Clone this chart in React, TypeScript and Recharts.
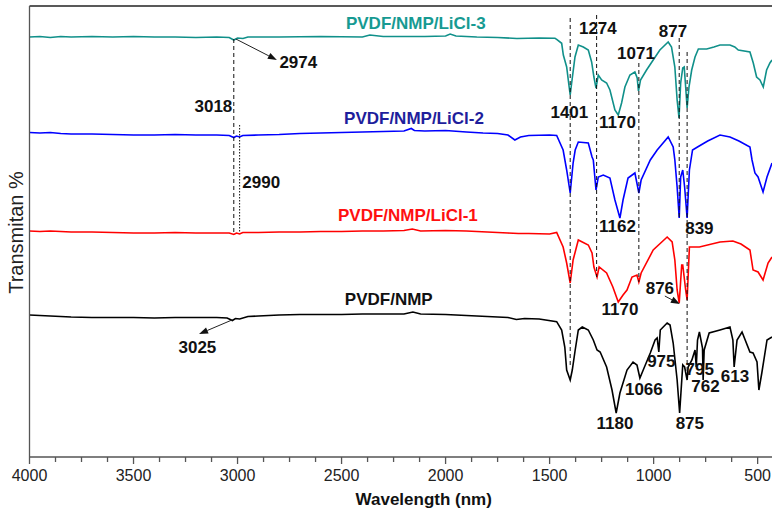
import React from 'react';
import { ComposedChart, Line, XAxis, YAxis, ReferenceLine, Scatter, Label } from 'recharts';

type P = [number, number];

// wavenumber (cm-1 as labelled "nm") , transmittance (arbitrary offset units)
const licl3: P[] = [
  [4000, 420], [3950, 420.5], [3900, 419.5], [3850, 420.5], [3800, 420], [3700, 420.5], [3600, 420], [3500, 420.5],
  [3400, 420], [3300, 420], [3200, 419.5], [3100, 420], [3040, 419.5], [3018, 417], [3000, 419], [2974, 418.5],
  [2950, 420], [2800, 420], [2600, 420.5], [2400, 420], [2364, 422], [2300, 420.5], [2200, 420.5], [2100, 420.5],
  [2000, 421], [1978, 423], [1950, 421], [1850, 420], [1750, 419.5], [1657, 418.5], [1550, 419], [1474, 418.7],
  [1466, 417.7], [1442, 413.7], [1434, 402], [1418, 390], [1406, 370], [1401, 362], [1394, 374], [1378, 400],
  [1362, 412], [1338, 410], [1314, 407], [1298, 395], [1287, 380], [1277, 369], [1266, 382], [1250, 377],
  [1226, 374], [1210, 367], [1186, 347], [1170, 342], [1154, 354], [1138, 370], [1114, 382], [1090, 385],
  [1079, 379], [1073, 366], [1063, 377], [1034, 387], [1002, 397], [970, 407], [930, 415], [914, 410],
  [898, 390], [887, 357], [878, 339], [870, 374], [860, 389], [853, 390], [846, 370], [839, 349], [830, 370],
  [817, 387], [801, 400], [785, 408], [745, 408], [710, 410], [681, 412], [633, 412], [610, 410], [593, 407],
  [537, 405], [521, 394], [505, 380], [489, 377], [473, 370], [457, 387], [441, 394], [431, 397],
];

const licl2: P[] = [
  [4000, 324.5], [3950, 324], [3900, 324.5], [3850, 323.5], [3800, 323], [3700, 323], [3600, 322.5], [3500, 322],
  [3400, 322], [3300, 322.5], [3200, 322], [3100, 322], [3040, 321.5], [3018, 319.5], [3005, 321], [2990, 320],
  [2975, 321.5], [2900, 322], [2800, 322.5], [2700, 323.5], [2600, 324], [2500, 324.5], [2400, 325], [2300, 325.5],
  [2200, 326], [2165, 328.5], [2150, 326.5], [2100, 326], [2000, 326.5], [1900, 325], [1820, 324], [1750, 323.5],
  [1700, 322], [1667, 317], [1640, 320], [1600, 321.5], [1500, 322], [1466, 321.5], [1435, 307], [1418, 287],
  [1401, 264], [1387, 294], [1377, 307], [1362, 315], [1314, 314], [1296, 300], [1290, 297], [1277, 267],
  [1266, 280], [1242, 282], [1210, 279], [1186, 257], [1162, 239], [1147, 257], [1123, 279], [1090, 284],
  [1071, 264], [1060, 277], [1016, 297], [983, 307], [930, 320], [906, 310], [898, 297], [887, 270], [877, 239],
  [870, 280], [860, 287], [851, 270], [839, 239], [828, 287], [813, 307], [789, 310], [740, 316], [681, 322],
  [633, 320], [590, 316], [537, 310], [527, 297], [513, 284], [498, 280], [474, 265], [455, 280], [431, 294],
];

const licl1: P[] = [
  [4000, 226], [3950, 225.5], [3900, 226], [3800, 225], [3700, 225], [3600, 224.5], [3500, 224], [3400, 224],
  [3300, 224.5], [3200, 224], [3100, 224], [3040, 224], [3018, 222.5], [3005, 224], [2990, 223], [2975, 224.5],
  [2900, 224.5], [2800, 225], [2700, 225], [2600, 225.5], [2500, 225.5], [2400, 226], [2300, 226], [2200, 226.5],
  [2160, 228], [2120, 226], [2000, 226.5], [1900, 226], [1800, 225], [1700, 224], [1650, 223.5], [1600, 223.5],
  [1500, 223], [1466, 224.5], [1435, 210], [1418, 194], [1401, 174], [1387, 197], [1362, 217], [1314, 212],
  [1296, 204], [1287, 190], [1272, 180], [1262, 190], [1226, 184], [1196, 170], [1170, 155], [1147, 162],
  [1128, 167], [1104, 180], [1080, 182], [1071, 175], [1060, 184], [1002, 207], [935, 220], [911, 215],
  [898, 197], [887, 167], [877, 154], [865, 192], [860, 192], [846, 167], [839, 157], [828, 210], [813, 210],
  [780, 210], [681, 215], [619, 216], [580, 213], [537, 207], [522, 187], [498, 185], [474, 177], [450, 194],
  [431, 200],
];

const pvdf: P[] = [
  [4000, 142], [3950, 141.5], [3900, 141], [3800, 140], [3700, 139.5], [3600, 139.5], [3500, 139.5], [3400, 139],
  [3300, 139.5], [3200, 139.5], [3100, 139.5], [3050, 139], [3025, 136.5], [3010, 138.5], [2990, 138], [2950, 140.5],
  [2900, 141], [2800, 142], [2700, 142.5], [2600, 142.5], [2500, 142.5], [2400, 143], [2300, 143], [2200, 143],
  [2157, 145], [2120, 143], [2000, 142.5], [1900, 141.5], [1800, 140.5], [1700, 139.5], [1660, 137.5], [1620, 138.5],
  [1550, 138], [1466, 135.3], [1442, 127], [1427, 110], [1418, 87], [1401, 77], [1391, 87], [1377, 107],
  [1362, 127], [1343, 130], [1314, 127], [1290, 117], [1272, 107], [1257, 105], [1226, 90], [1200, 67],
  [1180, 44], [1162, 64], [1128, 87], [1099, 95], [1080, 92], [1066, 79], [1050, 87], [1016, 104], [993, 117],
  [983, 119], [975, 105], [968, 127], [935, 134], [921, 132], [906, 114], [887, 77], [875, 44], [860, 92],
  [851, 90], [839, 77], [834, 90], [816, 97], [801, 107], [795, 90], [789, 117], [780, 125], [765, 109],
  [762, 77], [757, 107], [733, 124], [681, 127], [633, 130], [619, 117], [613, 90], [599, 117], [575, 125],
  [537, 105], [522, 104], [503, 95], [494, 67], [480, 84], [455, 117], [431, 120],
];

const seriesNames = ['PVDF/NMP/LiCl-3', 'PVDF/NMP/LiCl-2', 'PVDF/NMP/LiCl-1', 'PVDF/NMP'];
// [name, wavenumber, value] position of each series caption
const seriesCaptions: [string, number, number][] = [
  ['PVDF/NMP/LiCl-3', 2143, 434],
  ['PVDF/NMP/LiCl-2', 2152, 339],
  ['PVDF/NMP/LiCl-1', 2181, 242],
  ['PVDF/NMP', 2273, 158],
];

// peak annotations: [text, wavenumber, value]
const peakLabels: [string, number, number][] = [
  ['2974', 2708, 395], ['3018', 3116, 350.5], ['2990', 2886, 275], ['3025', 3193, 110],
  ['1401', 1405, 345], ['1274', 1268, 429], ['1071', 1085, 404], ['877', 907, 426],
  ['1170', 1174, 335], ['1162', 1174, 231], ['839', 780, 229], ['876', 970, 169],
  ['1170', 1162, 148], ['975', 963, 96], ['1066', 1047, 68], ['1180', 1186, 33.5],
  ['875', 826, 34], ['795', 778, 88], ['762', 751, 70.5], ['613', 609, 81],
];

// vertical guide lines: [wavenumber, topValue, bottomValue]
const dashedGuides: [number, number, number][] = [
  [3018, 418, 224], [1401, 439, 90], [1274, 442, 180], [1071, 394, 175], [877, 419, 239], [839, 405, 84],
];
const dottedGuides: [number, number, number][] = [[2990, 332, 224]];

// arrows: [fromW, fromV, toW, toV]
const arrows: [number, number, number, number][] = [
  [3008, 418, 2811, 397],
  [3027, 137, 3185, 123],
  [946, 161, 874, 153],
];

const xTicks = [4000, 3875, 3750, 3625, 3500, 3375, 3250, 3125, 3000, 2875, 2750, 2625, 2500, 2375, 2250, 2125,
  2000, 1875, 1750, 1625, 1500, 1375, 1250, 1125, 1000, 875, 750, 625, 500];
const majorTicks = [4000, 3500, 3000, 2500, 2000, 1500, 1000, 500];

const xDomain = [431, 4000];
const yDomain = [0, 451];

const FONT = '"Liberation Sans", Arial, sans-serif';
const lineColors = ['#10908a', '#0000ff', '#ff0000', '#000000'];
const captionColors: Record<string, string> = {
  'PVDF/NMP/LiCl-3': '#169a92',
  'PVDF/NMP/LiCl-2': '#1e1e9c',
  'PVDF/NMP/LiCl-1': '#ff1010',
  'PVDF/NMP': '#111111',
};

const toPts = (a: P[]) => a.map(([w, v]) => ({ w, v }));
const seriesData = [licl3, licl2, licl1, pvdf].map(toPts);

const XTick = (props: any) => {
  const { x, y, payload } = props;
  const major = majorTicks.includes(payload.value);
  return (
    <g>
      <line x1={x} x2={x} y1={y} y2={y + (major ? 7 : 5)} stroke="#555" strokeWidth={1.3} />
      {major && (
        <text x={x} y={y + 24} textAnchor="middle" fontSize={16} fill="#222" fontFamily={FONT}>
          {payload.value}
        </text>
      )}
    </g>
  );
};

const ArrowShape = (p: any) => {
  const { x1, y1, x2, y2 } = p;
  const dx = x2 - x1;
  const dy = y2 - y1;
  const len = Math.hypot(dx, dy) || 1;
  const ux = dx / len;
  const uy = dy / len;
  const hl = 9;
  const hw = 3.3;
  const bx = x2 - ux * hl;
  const by = y2 - uy * hl;
  return (
    <g>
      <line x1={x1} y1={y1} x2={bx} y2={by} stroke="#222" strokeWidth={1} />
      <polygon points={`${x2},${y2} ${bx - uy * hw},${by + ux * hw} ${bx + uy * hw},${by - ux * hw}`} fill="#111" />
    </g>
  );
};

const peakData = peakLabels.map(([label, w, v]) => ({ label, w, v }));
const captionData = seriesCaptions.map(([label, w, v]) => ({ label, w, v }));

export default function App() {
  return (
    <div style={{ position: 'absolute', left: 0, top: 0, width: 772, height: 512, background: '#fff', overflow: 'hidden' }}>
      <ComposedChart width={772} height={512} margin={{ top: 6, right: 0, bottom: 0, left: 0 }}>
        <XAxis
          type="number"
          dataKey="w"
          domain={xDomain}
          reversed
          allowDataOverflow
          ticks={xTicks}
          interval={0}
          height={55}
          tickSize={0}
          tickMargin={0}
          tickLine={false}
          tick={<XTick />}
          axisLine={{ stroke: '#555', strokeWidth: 1.3 }}
        >
          <Label
            content={(p: any) => {
              const vb = p.viewBox || { x: 29.5, y: 457, width: 742.5 };
              return (
                <text x={vb.x + vb.width / 2 + 23} y={vb.y + 48} textAnchor="middle" fontSize={17}
                  fontWeight="bold" fill="#111" fontFamily={FONT}>
                  Wavelength (nm)
                </text>
              );
            }}
          />
        </XAxis>
        <YAxis
          type="number"
          domain={yDomain}
          allowDataOverflow
          width={29.5}
          tick={false}
          tickLine={false}
          axisLine={{ stroke: '#555', strokeWidth: 1.3 }}
        >
          <Label
            content={(p: any) => {
              const vb = p.viewBox || { x: 0, y: 6, height: 451 };
              const cx = vb.x + 16;
              const cy = vb.y + vb.height / 2 + 1;
              return (
                <text transform={`translate(${cx},${cy}) rotate(-90)`} textAnchor="middle"
                  dominantBaseline="central" fontSize={20} fill="#222" fontFamily={FONT}>
                  Transmitan %
                </text>
              );
            }}
          />
        </YAxis>
        <ReferenceLine y={yDomain[1]} stroke="#222" strokeWidth={1.3} />
        {seriesData.map((d, i) => (
          <Line
            key={seriesNames[i]}
            name={seriesNames[i]}
            data={d}
            dataKey="v"
            type="linear"
            stroke={lineColors[i]}
            strokeWidth={1.6}
            dot={false}
            activeDot={false}
            isAnimationActive={false}
          />
        ))}
        {dashedGuides.map(([w, a, b], i) => (
          <ReferenceLine key={'d' + i} segment={[{ x: w, y: a }, { x: w, y: b }]} stroke="#111"
            strokeWidth={1} strokeDasharray="4 3" />
        ))}
        {dottedGuides.map(([w, a, b], i) => (
          <ReferenceLine key={'o' + i} segment={[{ x: w, y: a }, { x: w, y: b }]} stroke="#111"
            strokeWidth={1} strokeDasharray="1.5 1.5" />
        ))}
        {arrows.map(([w1, v1, w2, v2], i) => (
          <ReferenceLine key={'a' + i} segment={[{ x: w1, y: v1 }, { x: w2, y: v2 }]} shape={ArrowShape} />
        ))}
        <Scatter
          data={peakData}
          dataKey="v"
          isAnimationActive={false}
          shape={(p: any) => (
            <text x={p.cx} y={p.cy} textAnchor="middle" dominantBaseline="central" fontSize={17}
              fontWeight="bold" fill="#111" fontFamily={FONT}>
              {p.payload.label}
            </text>
          )}
        />
        <Scatter
          data={captionData}
          dataKey="v"
          isAnimationActive={false}
          shape={(p: any) => (
            <text x={p.cx} y={p.cy} textAnchor="middle" dominantBaseline="central" fontSize={17}
              fontWeight="bold" fill={captionColors[p.payload.label]} fontFamily={FONT}>
              {p.payload.label}
            </text>
          )}
        />
      </ComposedChart>
    </div>
  );
}
